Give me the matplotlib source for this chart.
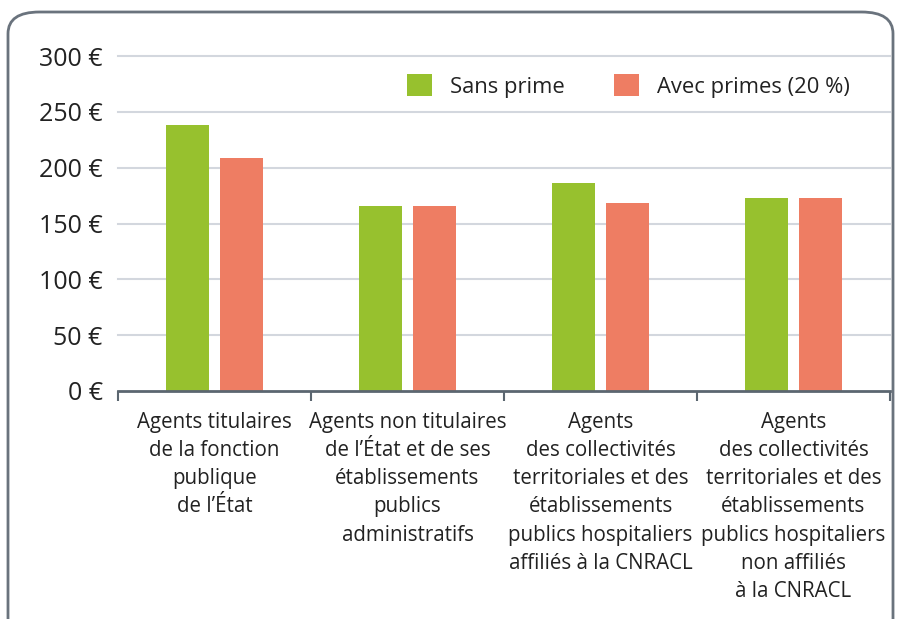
import matplotlib.pyplot as plt
import numpy as np
from matplotlib.patches import FancyBboxPatch

categories = [
    "Agents titulaires\nde la fonction\npublique\nde l\u2019\u00c9tat",
    "Agents non titulaires\nde l\u2019\u00c9tat et de ses\n\u00e9tablissements\npublics\nadministratifs",
    "Agents\ndes collectivit\u00e9s\nterritoriales et des\n\u00e9tablissements\npublics hospitaliers\naffili\u00e9s \u00e0 la CNRACL",
    "Agents\ndes collectivit\u00e9s\nterritoriales et des\n\u00e9tablissements\npublics hospitaliers\nnon affili\u00e9s\n\u00e0 la CNRACL",
]
sans_prime = [238, 166, 186, 173]
avec_primes = [209, 166, 168, 173]
series_names = ["Sans prime", "Avec primes (20 %)"]
yticks = [0, 50, 100, 150, 200, 250, 300]

green = "#97c12e"
salmon = "#ee7d63"
textc = "#222222"

plt.rcParams['font.family'] = ['Open Sans', 'DejaVu Sans']

fig = plt.figure(figsize=(8.99, 6.19), dpi=100)
ax = fig.add_axes([118/899, 1-391/619, (890-118)/899, (391-56)/619])

x = np.arange(len(categories))
w = 0.225
b1 = ax.bar(x - 0.14, sans_prime, w, color=green, label=series_names[0], zorder=3)
b2 = ax.bar(x + 0.14, avec_primes, w, color=salmon, label=series_names[1], zorder=3)

ax.set_xlim(-0.5, len(categories) - 0.5)
ax.set_ylim(0, 300)
ax.set_yticks(yticks)
ax.set_yticklabels([f"{v} \u20ac" for v in yticks], fontsize=18, color=textc)
ax.tick_params(axis='y', length=0, pad=11)
for v in yticks[1:]:
    ax.axhline(v, color="#d3d7de", lw=1.5, zorder=1, clip_on=False)

for s in ['top', 'right', 'left']:
    ax.spines[s].set_visible(False)
ax.spines['bottom'].set_color("#5b6670")
ax.spines['bottom'].set_linewidth(2)
ax.spines['bottom'].set_zorder(4)

ax.set_xticks(np.arange(len(categories) + 1) - 0.5)
ax.set_xticklabels([])
ax.tick_params(axis='x', which='major', length=7, width=1.5, color="#5b6670")
ax.set_xticks(x, categories, minor=True)
ax.tick_params(axis='x', which='minor', length=0, pad=15)
for t in ax.get_xticklabels(minor=True):
    t.set_fontsize(14.8)
    t.set_linespacing(1.45)
    t.set_color(textc)
    t.set_verticalalignment('top')

fig.legend(handles=[b1, b2], labels=series_names, loc='center',
           bbox_to_anchor=((405 + 852) / 2 / 899, 1 - 86 / 619),
           ncol=2, frameon=False, fontsize=15.8, handlelength=1.14, handleheight=1.14,
           handletextpad=0.82, columnspacing=2.28, labelcolor=textc)

border = FancyBboxPatch((8/899, -0.05), (893-8)/899, 1 - 12/619 + 0.05,
                        boxstyle="round,pad=0,rounding_size=0.035",
                        transform=fig.transFigure, fill=False,
                        edgecolor="#6a737d", lw=2, clip_on=False)
fig.patches.append(border)

fig.savefig("out.png", dpi=100)
